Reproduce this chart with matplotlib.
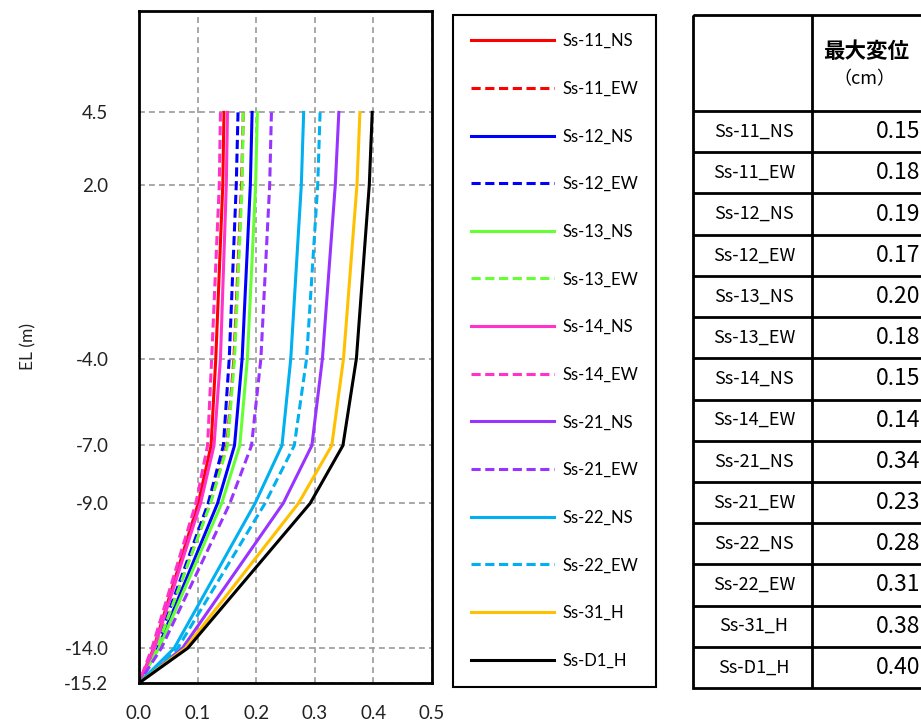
import numpy as np
import matplotlib.pyplot as plt
from matplotlib.patches import Rectangle

plt.rcParams['font.family'] = ['Lato', 'DejaVu Sans']

# elevations (m)
el = [4.5, 2.0, -4.0, -7.0, -9.0, -14.0, -15.2]

names = ['Ss-11_NS', 'Ss-11_EW', 'Ss-12_NS', 'Ss-12_EW', 'Ss-13_NS', 'Ss-13_EW',
         'Ss-14_NS', 'Ss-14_EW', 'Ss-21_NS', 'Ss-21_EW', 'Ss-22_NS', 'Ss-22_EW',
         'Ss-31_H', 'Ss-D1_H']

# displacement (cm) at each elevation
ss11_ns = [0.145, 0.143, 0.131, 0.123, 0.101, 0.025, 0.0]
ss11_ew = [0.178, 0.175, 0.162, 0.150, 0.121, 0.030, 0.0]
ss12_ns = [0.193, 0.190, 0.176, 0.163, 0.134, 0.032, 0.0]
ss12_ew = [0.169, 0.166, 0.154, 0.144, 0.118, 0.028, 0.0]
ss13_ns = [0.202, 0.199, 0.185, 0.172, 0.141, 0.034, 0.0]
ss13_ew = [0.178, 0.176, 0.163, 0.151, 0.122, 0.030, 0.0]
ss14_ns = [0.151, 0.149, 0.139, 0.128, 0.105, 0.026, 0.0]
ss14_ew = [0.139, 0.137, 0.124, 0.117, 0.097, 0.022, 0.0]
ss21_ns = [0.341, 0.335, 0.313, 0.295, 0.246, 0.074, 0.0]
ss21_ew = [0.226, 0.223, 0.208, 0.192, 0.155, 0.038, 0.0]
ss22_ns = [0.281, 0.277, 0.259, 0.244, 0.198, 0.060, 0.0]
ss22_ew = [0.309, 0.305, 0.286, 0.265, 0.215, 0.066, 0.0]
ss31_h = [0.377, 0.372, 0.349, 0.329, 0.272, 0.079, 0.0]
ssd1_h = [0.398, 0.393, 0.371, 0.348, 0.292, 0.083, 0.0]

series = [ss11_ns, ss11_ew, ss12_ns, ss12_ew, ss13_ns, ss13_ew, ss14_ns,
          ss14_ew, ss21_ns, ss21_ew, ss22_ns, ss22_ew, ss31_h, ssd1_h]

colors = ['#FF0000', '#FF0000', '#0000FF', '#0000FF', '#66FF33', '#66FF33',
          '#FF33CC', '#FF33CC', '#9933FF', '#9933FF', '#00B0F0', '#00B0F0',
          '#FFC000', '#000000']
styles = ['-', '--'] * 6 + ['-', '-']

# table values
max_disp = ['0.15', '0.18', '0.19', '0.17', '0.20', '0.18', '0.15',
            '0.14', '0.34', '0.23', '0.28', '0.31', '0.38', '0.40']

W, H = 921, 724
fig = plt.figure(figsize=(9.21, 7.24), dpi=100)

def px(x0, y0, x1, y1):
    return [x0 / W, 1 - y1 / H, (x1 - x0) / W, (y1 - y0) / H]

ax = fig.add_axes(px(139, 11, 432, 683))
for v, c, ls in zip(series, colors, styles):
    ax.plot(v, el, color=c, linestyle=ls, lw=2.2, dashes=(3.0, 1.5) if ls == '--' else (None, None))

ax.set_xlim(0, 0.5)
ax.set_ylim(-15.2, 8.0)
ax.set_xticks(np.arange(0, 0.51, 0.1))
ax.set_xticklabels(['0.0', '0.1', '0.2', '0.3', '0.4', '0.5'])
ax.set_yticks(el)
ax.set_yticklabels(['%.1f' % e for e in el])
ax.tick_params(length=0, labelsize=13.5, colors='#222222')
ax.tick_params(axis='y', pad=22)
ax.tick_params(axis='x', pad=16)
ax.grid(True, color='#999999', linestyle=(0, (3.5, 2.5)), lw=1.2)
for s in ax.spines.values():
    s.set_linewidth(2)
ax.set_ylabel('EL (m)', fontsize=12.5, labelpad=20, color='#222222')

handles = ax.get_lines()
leg = fig.legend(handles, names, loc='upper left',
                 bbox_to_anchor=(453 / W, 1 - 15 / H, 203 / W, 0.0), mode='expand',
                 borderaxespad=0,
                 fontsize=12, handlelength=5.0, handletextpad=0.5,
                 labelspacing=1.9, borderpad=1.08, fancybox=False,
                 edgecolor='black', framealpha=1)
leg.get_frame().set_linewidth(1.5)

# table
tx = fig.add_axes(px(693, 15, 925, 688))
tx.set_xlim(693, 925)
tx.set_ylim(688, 15)
tx.axis('off')
row_top = 111
row_h = (688 - row_top) / len(names)
tx.add_patch(Rectangle((693, 15), 925 - 693, 688 - 15, fill=False, lw=2, ec='black', clip_on=False))
tx.plot([812, 812], [15, 688], color='black', lw=2)
tx.plot([693, 925], [row_top, row_top], color='black', lw=2)
for i in range(1, len(names)):
    y = row_top + i * row_h
    tx.plot([693, 925], [y, y], color='black', lw=2)
tx.text(866, 52, '最大変位', ha='center', va='center', fontsize=15.5, fontweight='bold',
        family=['Noto Sans CJK JP'])
tx.text(864, 79, '（cm）', ha='center', va='center', fontsize=13,
        family=['Noto Sans CJK JP'])
for i, (n, v) in enumerate(zip(names, max_disp)):
    yc = row_top + (i + 0.5) * row_h
    tx.text(754, yc, n, ha='center', va='center', fontsize=13,
            family=['Noto Sans CJK JP'])
    tx.text(920, yc, v, ha='right', va='center', fontsize=16.5,
            family=['Noto Sans CJK JP'])

fig.savefig('out.png', dpi=100)
